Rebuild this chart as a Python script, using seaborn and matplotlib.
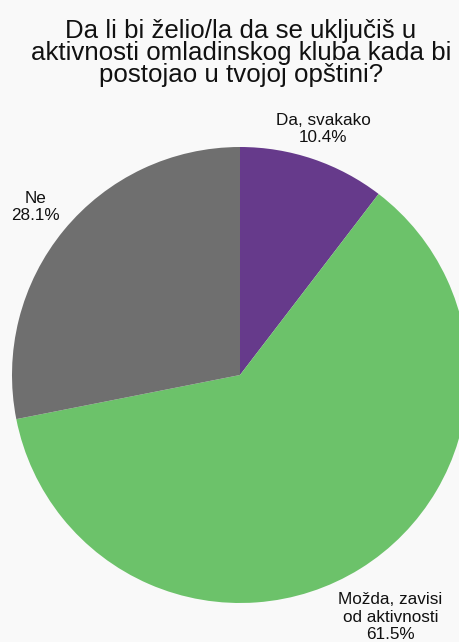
import numpy as np
import matplotlib
matplotlib.use("Agg")
import matplotlib.pyplot as plt
import seaborn as sns

title = "Da li bi želio/la da se uključiš u\naktivnosti omladinskog kluba kada bi\npostojao u tvojoj opštini?"
categories = ["Da, svakako", "Možda, zavisi\nod aktivnosti", "Ne"]
values = [10.4, 61.5, 28.1]
colors = ["#663a8b", "#6cc26a", "#6f6f6f"]
label_dist = [1.14, 1.25, 1.16]

sns.set_style("white")
plt.rcParams["font.family"] = ["Liberation Sans", "DejaVu Sans"]

bg = "#f9f9f9"
fig = plt.figure(figsize=(4.6, 6.42), dpi=100, facecolor=bg)
ax = fig.add_axes([0, 0, 1, 1])
ax.set_facecolor(bg)

# pie centre at (240, 375) px, radius 228 px
r = 228
wedges, _ = ax.pie(values, colors=colors, startangle=90, counterclock=False,
                   radius=1, wedgeprops=dict(linewidth=0))
ax.set_xlim(-240 / r, 220 / r)
ax.set_ylim(-(642 - 375) / r, 375 / r)
ax.set_aspect("auto")
ax.axis("off")

for w, cat, v, d in zip(wedges, categories, values, label_dist):
    ang = np.deg2rad((w.theta1 + w.theta2) / 2)
    ax.text(d * np.cos(ang), d * np.sin(ang), f"{cat}\n{v}%", ha="center", va="center",
            fontsize=12.3, color="#111111", linespacing=1.2)

fig.text(241 / 460, 1 - 53 / 642, title, ha="center", va="center", fontsize=18.6,
         color="#111111", linespacing=0.92)

fig.savefig("out.png", dpi=100, facecolor=bg)
